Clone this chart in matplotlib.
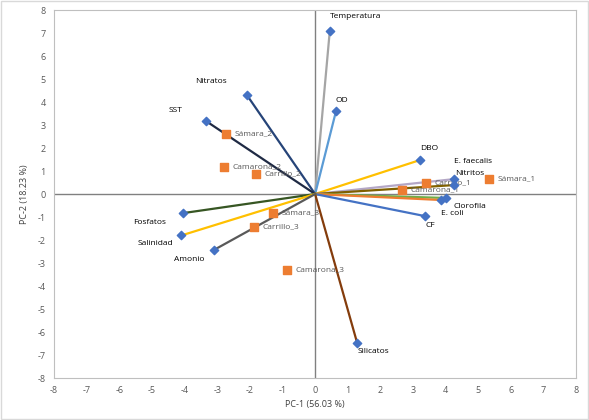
import numpy as np
import matplotlib.pyplot as plt
from matplotlib.patches import Rectangle

plt.rcParams['font.family'] = ['Open Sans', 'DejaVu Sans']
plt.rcParams['axes.unicode_minus'] = False

# Variables (cargas)
variables = ["Temperatura", "OD", "Nitratos", "SST", "DBO", "E. faecalis", "Nitritos",
             "Clorofila", "E. coli", "CF", "Silicatos", "Fosfatos", "Salinidad", "Amonio"]
var_x = [0.45, 0.64, -2.09, -3.34, 3.22, 4.26, 4.26, 4.00, 3.87, 3.37, 1.29, -4.05, -4.10, -3.10]
var_y = [7.10, 3.60, 4.30, 3.17, 1.48, 0.65, 0.39, -0.17, -0.26, -0.96, -6.48, -0.83, -1.80, -2.43]
var_colores = ["#A5A5A5", "#5B9BD5", "#264478", "#1F2A44", "#FFC000", "#B4A7C6", "#7F6000",
               "#70AD47", "#ED7D31", "#4472C4", "#843C0C", "#375623", "#FFC000", "#595959"]

# Sitios de muestreo (puntuaciones)
sitios = ["Sámara_1", "Sámara_2", "Sámara_3", "Carrillo_1", "Carrillo_2", "Carrillo_3",
          "Camarona_1", "Camarona_2", "Camarona_3"]
sitio_x = [5.34, -2.73, -1.29, 3.40, -1.81, -1.87, 2.67, -2.79, -0.86]
sitio_y = [0.65, 2.60, -0.83, 0.48, 0.87, -1.43, 0.17, 1.17, -3.30]

# posicion de etiquetas de variables (offset en puntos)
etq_off = {"Temperatura": (0, 10, "left"), "OD": (0, 8, "left"), "Nitratos": (-26, 10, "center"),
           "SST": (-22, 8, "center"), "DBO": (0, 8, "left"), "E. faecalis": (0, 13, "left"),
           "Nitritos": (1, 8, "left"), "Clorofila": (6, -6, "left"), "E. coli": (0, -10, "left"),
           "CF": (0, -7, "left"), "Silicatos": (0, -6, "left"), "Fosfatos": (-12, -7, "right"),
           "Salinidad": (-6, -6, "right"), "Amonio": (-7, -7, "right")}

fig = plt.figure(figsize=(5.89, 4.2), dpi=100)
fig.patches.append(Rectangle((0.002, 0.002), 0.996, 0.996, transform=fig.transFigure,
                             fill=False, edgecolor="#D9D9D9", linewidth=1))
ax = fig.add_axes([0.092, 0.1, 0.886, 0.876])

ax.axhline(0, color="#808080", linewidth=1, zorder=1)
ax.axvline(0, color="#808080", linewidth=1, zorder=1)

for i in range(len(variables)):
    ax.plot([0, var_x[i]], [0, var_y[i]], color=var_colores[i], linewidth=1.6, zorder=2)
ax.scatter(var_x, var_y, marker="D", s=18, color="#4472C4", zorder=4)
for i, v in enumerate(variables):
    dx, dy, ha = etq_off[v]
    ax.annotate(v, (var_x[i], var_y[i]), xytext=(dx, dy), textcoords="offset points",
                ha=ha, va="center", fontsize=6, color="black")

ax.scatter(sitio_x, sitio_y, marker="s", s=30, color="#ED7D31", zorder=5)
for i, s in enumerate(sitios):
    ax.annotate(s, (sitio_x[i], sitio_y[i]), xytext=(6, 0), textcoords="offset points",
                ha="left", va="center", fontsize=6, color="#595959")

ax.set_xlim(-8, 8)
ax.set_ylim(-8, 8)
ax.set_xticks(np.arange(-8, 9, 1))
ax.set_yticks(np.arange(-8, 9, 1))
ax.tick_params(labelsize=6.5, colors="#595959", length=0, pad=6)
for sp in ax.spines.values():
    sp.set_color("#BFBFBF")
    sp.set_linewidth(0.8)
ax.set_xlabel("PC-1 (56.03 %)", fontsize=6.5, color="#404040", labelpad=3)
ax.set_ylabel("PC-2 (18.23 %)", fontsize=6.5, color="#404040", labelpad=6)

plt.savefig("out.png", dpi=100)
